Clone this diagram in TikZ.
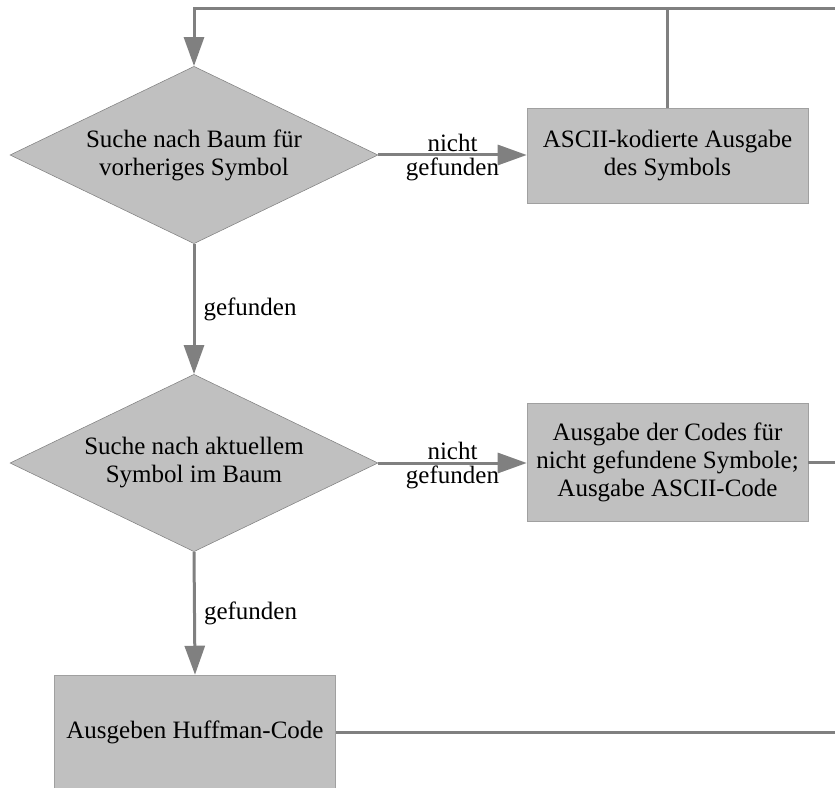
\documentclass[tikz,border=0pt]{standalone}
\usepackage{fontspec}
\setmainfont{Liberation Serif}
\usetikzlibrary{arrows.meta,positioning,shapes.geometric}
\definecolor{boxgray}{HTML}{C0C0C0}
\definecolor{edgegray}{HTML}{A0A0A0}
\definecolor{linegray}{HTML}{808080}
\tikzset{
  every node/.style={font=\fontsize{18.75}{21}\selectfont,text=black},
  query/.style={diamond,draw=linegray,fill=boxgray,inner sep=0pt,shape aspect=2,
    minimum width=276pt,minimum height=133pt,align=center},
  outbox/.style={rectangle,draw=edgegray,fill=boxgray,inner sep=0pt,
    minimum width=210.75pt,align=center},
  flow/.style={linegray,line width=2.25pt},
  flowarrow/.style={flow,-{Triangle[length=21.75pt,width=15pt]}},
}
\begin{document}
\begin{tikzpicture}[x=0.75pt,y=-0.75pt]
% ==========================================
\useasboundingbox (0,0) rectangle (835,788);
%
\node[query] (d1) at (194,155) {Suche nach Baum für\\vorheriges Symbol};
\node[outbox,minimum height=71.25pt] (b1) at (667.5,155.5) {ASCII-kodierte Ausgabe\\des Symbols};
%
\node[query] (d2) at (194,463) {Suche nach aktuellem\\Symbol im Baum};
\node[outbox,minimum height=88.5pt] (b2) at (667.5,462) {Ausgabe der Codes für\\nicht gefundene Symbole;\\Ausgabe ASCII-Code};
%
\node[outbox,minimum height=85.5pt] (b3) at (195,732) {Ausgeben Huffman-Code};
%
\coordinate (r1) at (835,9);
\coordinate (r2) at (835,462);
\coordinate (r3) at (835,732);
%
\draw[flowarrow] (d1.east) -- (d1.east -| b1.west)
  node[midway,above,inner sep=1pt] (n1) {nicht}
  node[midway,below,inner sep=1pt] (g1) {gefunden};
\draw[flowarrow] (d1.south) -- (d2.north)
  node[midway,right,inner sep=6pt] (g2) {gefunden};
\draw[flowarrow] (d2.east) -- (d2.east -| b2.west)
  node[midway,above,inner sep=1pt] (n3) {nicht}
  node[midway,below,inner sep=1pt] (g3) {gefunden};
\draw[flowarrow] (d2.south) -- (b3.north)
  node[midway,right,inner sep=6pt] (g4) {gefunden};
%
\draw[flowarrow] (r1) -| (d1.north);
\draw[flow] (b1.north) -- (b1.north |- r1);
\draw[flow] (b2.east) -- (r2);
\draw[flow] (b3.east) -- (r3);
% =============================================
\end{tikzpicture}
\end{document}
